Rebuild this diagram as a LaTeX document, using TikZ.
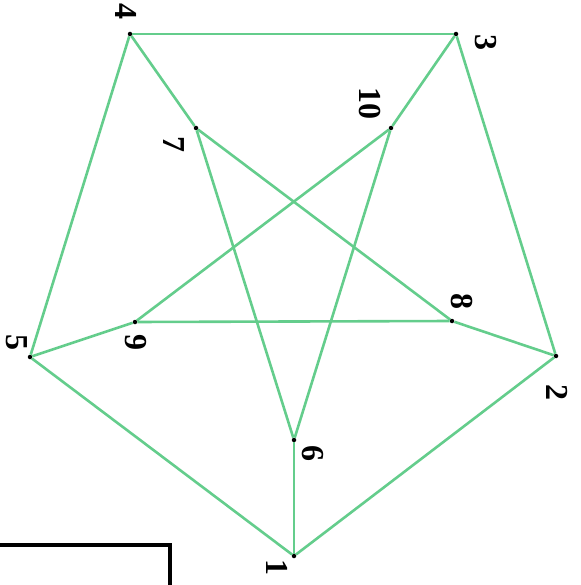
\documentclass[tikz,border=0pt]{standalone}
\usepackage{tikz}
\usepackage{fontspec}
\setmainfont{Liberation Serif}

\definecolor{edgegreen}{RGB}{100,205,140}

\begin{document}
\begin{tikzpicture}[x=1pt,y=-1pt,line width=0.4pt,
    vert/.style={circle,fill=black,inner sep=0pt,minimum size=4.5pt},
    lbl/.style={font=\fontsize{32}{36}\selectfont\bfseries,rotate=-90,inner sep=0pt},
    edge/.style={edgegreen,line width=2.6pt}]
  \useasboundingbox (0,0) rectangle (580,585);
  % the cut-off frame in the corner
  \draw[line width=3.8pt] (-5,545) -- (170,545) -- (170,590);
  % vertices
  \node[vert] (v1) at (294,556) {};
  \node[vert] (v2) at (556,356) {};
  \node[vert] (v3) at (456,34) {};
  \node[vert] (v4) at (130,34) {};
  \node[vert] (v5) at (30,357) {};
  \node[vert] (v6) at (294,440) {};
  \node[vert] (v7) at (196,128) {};
  \node[vert] (v8) at (452,321) {};
  \node[vert] (v9) at (135,322) {};
  \node[vert] (v10) at (391,128) {};
  % labels
  \node[lbl] (l1) at (277,567) {1};
  \node[lbl] (l2) at (557,392) {2};
  \node[lbl] (l3) at (486,43) {3};
  \node[lbl] (l4) at (126,12) {4};
  \node[lbl] (l5) at (17,342) {5};
  \node[lbl] (l6) at (313,453) {6};
  \node[lbl] (l7) at (174,145) {7};
  \node[lbl] (l8) at (462,301) {8};
  \node[lbl] (l9) at (136,342) {9};
  \node[lbl] (l10) at (370,104) {10};
  % edges
  \foreach \a/\b in {1/2,2/3,3/4,4/5,5/1,1/6,2/8,3/10,4/7,5/9,6/7,6/10,7/8,8/9,9/10}{
    \draw[edge] (v\a) -- (v\b);}
\end{tikzpicture}
\end{document}
